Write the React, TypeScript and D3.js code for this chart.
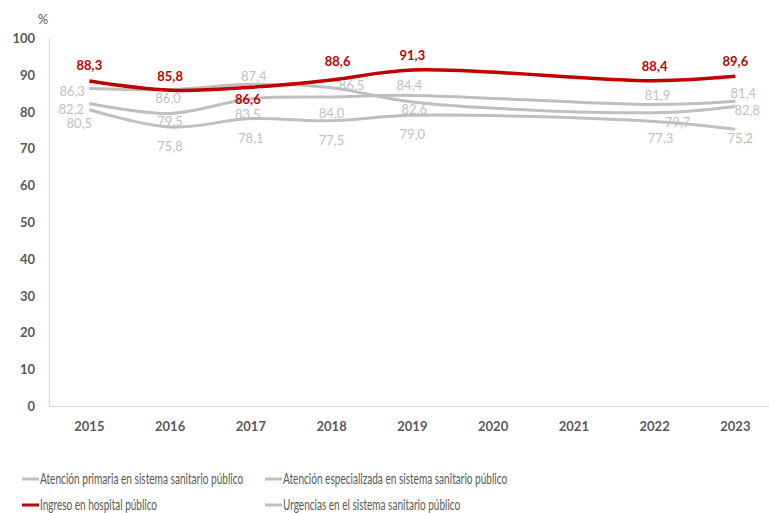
import React, { useLayoutEffect, useRef, useState } from "react";
import * as d3 from "d3";

const years = ["2015", "2016", "2017", "2018", "2019", "2020", "2021", "2022", "2023"];
const primaria = [86.3, 86.0, 87.4, 86.5, 82.6, null, null, 79.7, 81.4];
const especializada = [82.2, 79.5, 83.5, 84.0, 84.4, null, null, 81.9, 82.8];
const ingreso = [88.3, 85.8, 86.6, 88.6, 91.3, null, null, 88.4, 89.6];
const urgencias = [80.5, 75.8, 78.1, 77.5, 79.0, null, null, 77.3, 75.2];
const yTicks = [0, 10, 20, 30, 40, 50, 60, 70, 80, 90, 100];
const seriesNames = [
  "Atención primaria en sistema sanitario público",
  "Atención especializada en sistema sanitario público",
  "Ingreso en hospital público",
  "Urgencias en el sistema sanitario público",
];

// label offsets (style only): [dx, dy] from point to label centre
const offPrimaria = [[-17, 3], [-2, 8.5], [3, -8.7], [20, -2.7], [2, 7], null, null, [23, 9], [8, -13.7]];
const offEspecializada = [[-18, 5.5], [0, 7.6], [-3, 15.3], [0, 16], [-3, -10.4], null, null, [3, -9.6], [12, 8.7]];
const offIngreso = [[0, -16], [0, -14.6], [-3, 12], [6, -19], [0, -15], null, null, [0, -15], [0, -15]];
const offUrgencias = [[-10, 13], [0, 19], [0, 19.4], [0, 19], [0, 18.7], null, null, [6, 16], [5, 9]];

const W = 769;
const H = 513;
const FONT = "Lato, 'Open Sans', sans-serif";
const GREY = "#BFBFBF";
const RED = "#C00000";
const TEXT = "#595959";

export default function App() {
  const x = d3.scalePoint<string>().domain(years).range([49, 49 + 9 * 80.75]).padding(0.5);
  const y = d3.scaleLinear().domain([0, 100]).range([406, 38]);

  const series = [
    { name: seriesNames[0], values: primaria, color: GREY, width: 3, off: offPrimaria, bold: false },
    { name: seriesNames[1], values: especializada, color: GREY, width: 3, off: offEspecializada, bold: false },
    { name: seriesNames[3], values: urgencias, color: GREY, width: 3, off: offUrgencias, bold: false },
    { name: seriesNames[2], values: ingreso, color: RED, width: 3.5, off: offIngreso, bold: true },
  ];

  const line = d3
    .line<{ year: string; v: number }>()
    .x((d) => x(d.year) as number)
    .y((d) => y(d.v))
    .curve(d3.curveCatmullRom.alpha(0.5));

  const fmt = (v: number) => v.toFixed(1).replace(".", ",");

  const legend = [
    { name: seriesNames[0], color: GREY, x: 22, y: 479, w: 203 },
    { name: seriesNames[1], color: GREY, x: 265, y: 479, w: 224 },
    { name: seriesNames[2], color: RED, x: 22, y: 505, w: 117 },
    { name: seriesNames[3], color: GREY, x: 265, y: 505, w: 177 },
  ];

  const refs = useRef<(SVGTextElement | null)[]>([]);
  const [scales, setScales] = useState<number[]>([0.75, 0.75, 0.75, 0.75]);
  useLayoutEffect(() => {
    const s = legend.map((l, i) => {
      const el = refs.current[i];
      if (!el) return 0.75;
      const len = el.getComputedTextLength();
      return len > 0 ? l.w / len : 0.75;
    });
    setScales(s);
  }, []);

  return (
    <svg width={W} height={H} style={{ position: "absolute", left: 0, top: 0, background: "#fff" }} fontFamily={FONT}>
      <rect width={W} height={H} fill="#fff" />
      {/* axes */}
      <line x1={49} x2={W} y1={406.5} y2={406.5} stroke="#D9D9D9" strokeWidth={1} />
      <line x1={49.5} x2={49.5} y1={38} y2={406} stroke="#D9D9D9" strokeWidth={1} />
      <text x={43} y={19} textAnchor="middle" dominantBaseline="central" fontSize={13} fill={TEXT}>%</text>
      {yTicks.map((t) => (
        <text key={t} x={35} y={y(t)} textAnchor="end" dominantBaseline="central" fontSize={13} fontWeight="bold" fill={TEXT}>
          {t}
        </text>
      ))}
      {years.map((yr) => (
        <text key={yr} x={x(yr)} y={426} textAnchor="middle" dominantBaseline="central" fontSize={13} fontWeight="bold" fill={TEXT}>
          {yr}
        </text>
      ))}
      {/* lines */}
      {series.map((s) => {
        const pts = s.values
          .map((v, i) => ({ year: years[i], v: v as number }))
          .filter((d) => d.v !== null && d.v !== undefined);
        return <path key={s.name} d={line(pts) || ""} fill="none" stroke={s.color} strokeWidth={s.width} strokeLinejoin="round" />;
      })}
      {/* labels */}
      {series.map((s) =>
        s.values.map((v, i) => {
          if (v === null) return null;
          const o = s.off[i] as number[];
          return (
            <text
              key={s.name + i}
              x={(x(years[i]) as number) + o[0]}
              y={y(v) + o[1]}
              textAnchor="middle"
              dominantBaseline="central"
              fontSize={13}
              fontWeight={s.bold ? "bold" : "normal"}
              fill={s.color}
            >
              {fmt(v)}
            </text>
          );
        })
      )}
      {/* legend */}
      {legend.map((l, i) => (
        <g key={l.name}>
          <line x1={l.x} x2={l.x + 17} y1={l.y} y2={l.y} stroke={l.color} strokeWidth={3} />
          <g transform={`translate(${l.x + 18},${l.y}) scale(${scales[i]},1)`}>
            <text
              ref={(el) => {
                refs.current[i] = el;
              }}
              x={0}
              y={0}
              dominantBaseline="central"
              fontSize={14.5}
              fill={TEXT}
            >
              {l.name}
            </text>
          </g>
        </g>
      ))}
    </svg>
  );
}
